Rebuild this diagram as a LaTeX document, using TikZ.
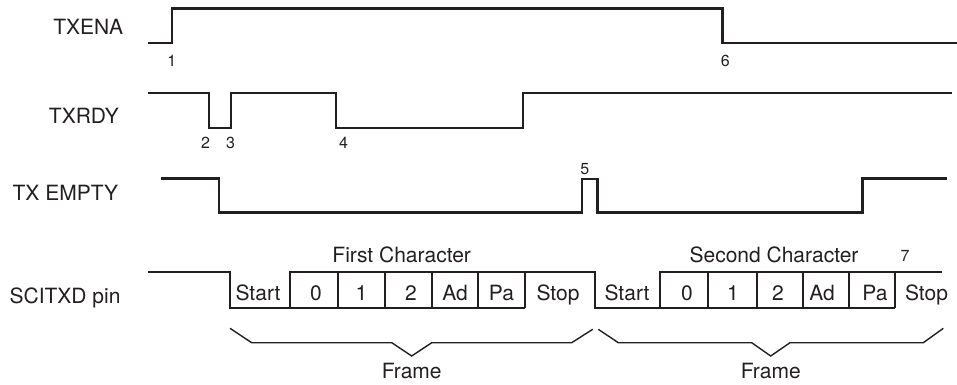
\documentclass[tikz,border=0pt]{standalone}
\usepackage{fontspec}
\setmainfont{TeX Gyre Heros}
\definecolor{ink}{RGB}{35,31,32}
\begin{document}
\begin{tikzpicture}[x=1pt,y=-1pt,
  wave/.style={draw=ink,line width=2.6pt,line join=miter,line cap=butt},
  bitdiv/.style={draw=ink,line width=2.4pt},
  bracket/.style={draw=ink,line width=1.4pt,line join=miter},
  sig/.style={text=ink,font=\fontsize{21}{25}\selectfont,anchor=base east,inner sep=0pt},
  bit/.style={text=ink,font=\fontsize{21}{25}\selectfont,anchor=base,inner sep=0pt},
  evt/.style={text=ink,font=\fontsize{16}{19}\selectfont,anchor=base,inner sep=0pt}]
\useasboundingbox (0,0) rectangle (957,384);
% signal names
\node[sig] (lena) at (123.3,34) {TXENA};
\node[sig] (lrdy) at (119,123) {TXRDY};
\node[sig] (lemp) at (118.3,200) {TX EMPTY};
\node[sig] (ltxd) at (120.7,303.3) {SCITXD pin};
% TXENA
\draw[wave] (148,43) -- (172,43) -- (172,8.5) -- (722.7,8.5) -- (722.7,43) -- (957,43);
% TXRDY
\draw[wave] (148,93) -- (209,93) -- (209,128) -- (231,128) -- (231,93) -- (336,93) -- (336,128) -- (523,128) -- (523,93) -- (952,93);
% TX EMPTY
\draw[wave] (161,178.5) -- (219,178.5) -- (219,212.5) -- (582,212.5) -- (582,179) -- (597.7,179) -- (597.7,212.5) -- (862.7,212.5) -- (862.7,178.5) -- (946.7,178.5);
% SCITXD pin
\draw[wave] (148,272) -- (230,272) -- (230,308) -- (525,308);
\draw[wave] (290,308) -- (290,272) -- (595,272) -- (595,308) -- (895,308);
\draw[wave] (660,308) -- (660,272) -- (942,272);
\foreach \x in {338,385,432,478,525,708,757,803,849,895}
  \draw[bitdiv] (\x,272) -- (\x,308);
% bit labels, first character
\node[bit] (s1) at (258,300) {Start};
\node[bit] (a0) at (316,300) {0};
\node[bit] (a1) at (361.5,300) {1};
\node[bit] (a2) at (411,300) {2};
\node[bit] (aad) at (455,300) {Ad};
\node[bit] (apa) at (501.5,300) {Pa};
\node[bit] (ast) at (558,300) {Stop};
% bit labels, second character
\node[bit] (s2) at (627,300) {Start};
\node[bit] (b0) at (687,300) {0};
\node[bit] (b1) at (733,300) {1};
\node[bit] (b2) at (778,300) {2};
\node[bit] (bad) at (822,300) {Ad};
\node[bit] (bpa) at (875,300) {Pa};
\node[bit] (bst) at (926.5,300) {Stop};
% character titles
\node[bit] (c1) at (401.7,262.3) {First Character};
\node[bit] (c2) at (774,262.3) {Second Character};
% event numbers
\node[evt] (e1) at (171.7,66) {1};
\node[evt] (e2) at (205.5,148) {2};
\node[evt] (e3) at (230.5,148) {3};
\node[evt] (e4) at (343.5,148) {4};
\node[evt] (e5) at (584.7,174.3) {5};
\node[evt] (e6) at (725.3,66) {6};
\node[evt] (e7) at (905,261.7) {7};
% frame brackets
\draw[bracket] (230,328.3) -- (251.7,342.7) -- (391.7,342.7) -- (411.7,356) -- (431.7,342.7) -- (571.7,342.7) -- (592.7,329.3);
\draw[bracket] (598.3,329.3) -- (618.3,342.7) -- (751.7,342.7) -- (770.7,356) -- (790,342.7) -- (923.3,342.7) -- (943.3,328.3);
\node[bit] (f1) at (411.7,378.3) {Frame};
\node[bit] (f2) at (770.8,378.3) {Frame};
\end{tikzpicture}
\end{document}
